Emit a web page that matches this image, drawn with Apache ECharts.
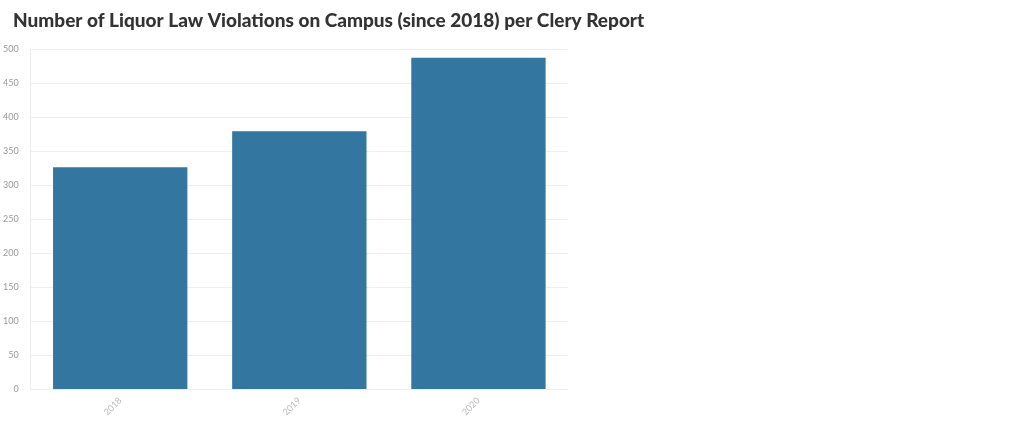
<!DOCTYPE html>
<html><head><meta charset="utf-8">
<script src="https://cdn.jsdelivr.net/npm/echarts@6/dist/echarts.min.js"></script>
<style>html,body{margin:0;padding:0;background:#fff}#c{width:1024px;height:438px}</style>
</head><body><div id="c"></div>
<script>
const categories = ['2018', '2019', '2020'];
const violations = [326, 379, 487];
const yTicks = [0, 50, 100, 150, 200, 250, 300, 350, 400, 450, 500];

const chart = echarts.init(document.getElementById('c'));
chart.setOption({
  animation: false,
  title: {
    text: 'Number of Liquor Law Violations on Campus (since 2018) per Clery Report',
    left: 8, top: 6,
    textStyle: {fontFamily: 'Lato', fontWeight: 900, fontSize: 19, color: '#333'}
  },
  grid: {left: 30, right: 456, top: 49, bottom: 49},
  xAxis: {
    type: 'category', data: categories,
    axisLine: {lineStyle: {color: '#eee'}},
    axisTick: {show: false},
    axisLabel: {rotate: 45, color: '#bbb', fontSize: 9, fontFamily: 'Lato', margin: 10}
  },
  yAxis: {
    type: 'value', min: yTicks[0], max: yTicks[yTicks.length - 1], interval: 50,
    axisLine: {show: true, lineStyle: {color: '#eee'}},
    axisTick: {show: false},
    splitLine: {lineStyle: {color: '#eee'}},
    axisLabel: {color: '#999', fontSize: 9, fontFamily: 'Lato', margin: 12}
  },
  series: [{
    type: 'bar', data: violations, barCategoryGap: '25%',
    itemStyle: {color: '#33769f'}
  }]
});
</script></body></html>
